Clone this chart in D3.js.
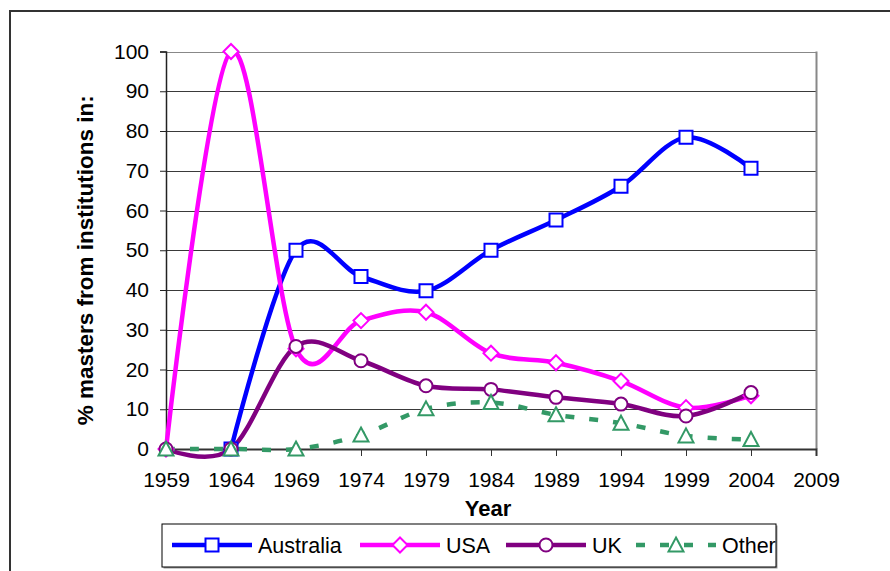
<!DOCTYPE html>
<html>
<head>
<meta charset="utf-8">
<script src="https://cdn.jsdelivr.net/npm/d3@7"></script>
<style>
  body { margin: 0; background: #fff; }
  text { font-family: Arial, "Liberation Sans", sans-serif; fill: #000; }
</style>
</head>
<body>
<svg id="chart"></svg>
<script>
const years = [1959, 1964, 1969, 1974, 1979, 1984, 1989, 1994, 1999, 2004];
const australia = [null, 0, 50, 43.4, 39.8, 50, 57.6, 66.1, 78.4, 70.6];
const usa = [0, 100, 25.2, 32.3, 34.4, 24.1, 21.7, 17.1, 10.4, 13.4];
const uk = [0, 0, 25.8, 22.2, 15.9, 15.0, 13.0, 11.3, 8.3, 14.2];
const other = [0, 0, 0, 3.5, 10.1, 11.7, 8.6, 6.5, 3.3, 2.4];
const xTicks = [1959, 1964, 1969, 1974, 1979, 1984, 1989, 1994, 1999, 2004, 2009];
const yTicks = [0, 10, 20, 30, 40, 50, 60, 70, 80, 90, 100];

const width = 890;
const height = 571;

const svg = d3.select("#chart")
  .attr("width", width)
  .attr("height", height);

// outer chart border (runs off the right/bottom edge)
svg.append("path")
  .attr("d", `M10,${height + 5} L10,11 L${width + 5},11`)
  .attr("fill", "none")
  .attr("stroke", "#333")
  .attr("stroke-width", 2);

const plot = { left: 166, right: 816, top: 51.5, bottom: 449 };

const x = d3.scaleLinear().domain([1959, 2009]).range([plot.left, plot.right]);
const y = d3.scaleLinear().domain([0, 100]).range([plot.bottom, plot.top]);

// gridlines
svg.append("g")
  .selectAll("line")
  .data(yTicks.filter(d => d > 0))
  .enter()
  .append("line")
  .attr("x1", plot.left)
  .attr("x2", plot.right)
  .attr("y1", d => Math.round(y(d)) + 0.5)
  .attr("y2", d => Math.round(y(d)) + 0.5)
  .attr("stroke", d => d === 100 ? "#888" : "#3a3a3a")
  .attr("stroke-width", 1);

// plot area right border
svg.append("line")
  .attr("x1", plot.right + 0.5).attr("x2", plot.right + 0.5)
  .attr("y1", plot.top).attr("y2", plot.bottom)
  .attr("stroke", "#888")
  .attr("stroke-width", 2);

// y axis
const yAxis = d3.axisLeft(y).tickValues(yTicks).tickSize(6).tickPadding(11);
const yg = svg.append("g")
  .attr("transform", `translate(${plot.left},0)`)
  .call(yAxis);
yg.select(".domain").attr("stroke", "#222").attr("stroke-width", 1.5);
yg.selectAll(".tick line").attr("stroke", "#222");
yg.selectAll(".tick text")
  .attr("font-size", 21)
  .attr("font-family", "Arial, 'Liberation Sans', sans-serif")
  .attr("fill", "#000");

// x axis
const xAxis = d3.axisBottom(x).tickValues(xTicks).tickFormat(d3.format("d")).tickSize(7).tickPadding(16);
const xg = svg.append("g")
  .attr("transform", `translate(0,${plot.bottom})`)
  .call(xAxis);
xg.select(".domain").attr("stroke", "#333").attr("stroke-width", 2);
xg.selectAll(".tick line").attr("stroke", "#333");
xg.selectAll(".tick text")
  .attr("font-size", 21)
  .attr("font-family", "Arial, 'Liberation Sans', sans-serif")
  .attr("fill", "#000");

// axis titles
svg.append("text")
  .attr("transform", `translate(93,${(plot.top + plot.bottom) / 2 + 10}) rotate(-90)`)
  .attr("text-anchor", "middle")
  .attr("font-size", 22.5)
  .attr("font-weight", "bold")
  .text("% masters from institutions in:");

svg.append("text")
  .attr("x", 488)
  .attr("y", 516)
  .attr("text-anchor", "middle")
  .attr("font-size", 22)
  .attr("font-weight", "bold")
  .text("Year");

const series = [
  { name: "Australia", values: australia, color: "#0000ff", marker: "square", dash: null },
  { name: "USA", values: usa, color: "#ff00ff", marker: "diamond", dash: null },
  { name: "UK", values: uk, color: "#800080", marker: "circle", dash: null },
  { name: "Other", values: other, color: "#339966", marker: "triangle", dash: "9,15" },
];

const markerPath = (type) => {
  if (type === "square") return "M-6.5,-6.5H6.5V6.5H-6.5Z";
  if (type === "diamond") return "M0,-7.5L7.5,0L0,7.5L-7.5,0Z";
  if (type === "circle") return "M-6.5,0A6.5,6.5 0 1,0 6.5,0A6.5,6.5 0 1,0 -6.5,0Z";
  return "M0,-7.5L7.5,6.5H-7.5Z";
};

const line = d3.line()
  .defined(d => d.v !== null)
  .x(d => x(d.year))
  .y(d => y(d.v))
  .curve(d3.curveCardinal.tension(0));

series.forEach(s => {
  const pts = years.map((yr, i) => ({ year: yr, v: s.values[i] })).filter(d => d.v !== null);
  svg.append("path")
    .datum(pts)
    .attr("fill", "none")
    .attr("stroke", s.color)
    .attr("stroke-width", 4.5)
    .attr("stroke-dasharray", s.dash)
    .attr("d", line);
});

series.forEach(s => {
  const pts = years.map((yr, i) => ({ year: yr, v: s.values[i] })).filter(d => d.v !== null);
  svg.append("g")
    .selectAll("path")
    .data(pts)
    .enter()
    .append("path")
    .attr("transform", d => `translate(${x(d.year)},${y(d.v)})`)
    .attr("d", markerPath(s.marker))
    .attr("fill", "#fff")
    .attr("stroke", s.color)
    .attr("stroke-width", 2);
});

// legend
const legendBox = { x: 162, y: 524, w: 614, h: 43 };
const legend = svg.append("g");
legend.append("rect")
  .attr("x", legendBox.x + 1.5).attr("y", legendBox.y + 1.5)
  .attr("width", legendBox.w).attr("height", legendBox.h)
  .attr("fill", "#999");
legend.append("rect")
  .attr("x", legendBox.x).attr("y", legendBox.y)
  .attr("width", legendBox.w).attr("height", legendBox.h)
  .attr("fill", "#fff")
  .attr("stroke", "#000")
  .attr("stroke-width", 1);

const legendX = [172, 360, 506, 636];
const legendItems = legend.selectAll("g.legend-item")
  .data(series)
  .enter()
  .append("g")
  .attr("class", "legend-item")
  .attr("transform", (d, i) => `translate(${legendX[i]},${legendBox.y + 21})`);

legendItems.append("line")
  .attr("x1", 0).attr("x2", 80)
  .attr("stroke", d => d.color)
  .attr("stroke-width", 4.5)
  .attr("stroke-dasharray", d => d.dash);

legendItems.append("path")
  .attr("transform", "translate(40,0)")
  .attr("d", d => markerPath(d.marker))
  .attr("fill", "#fff")
  .attr("stroke", d => d.color)
  .attr("stroke-width", 2);

legendItems.append("text")
  .attr("x", 86)
  .attr("y", 8)
  .attr("font-size", 21.5)
  .text(d => d.name);
</script>
</body>
</html>
